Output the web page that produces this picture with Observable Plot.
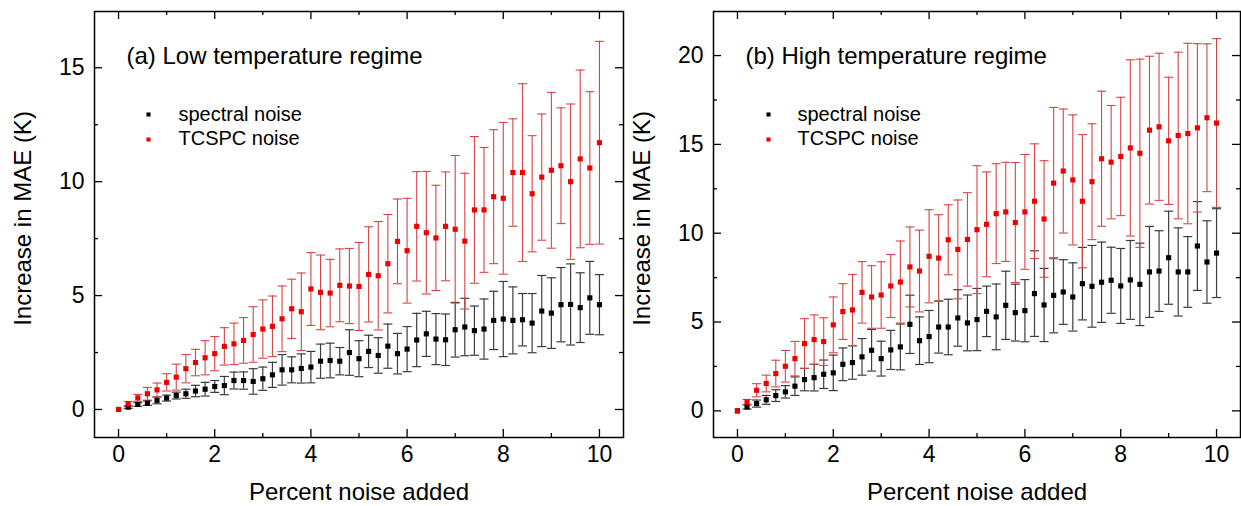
<!DOCTYPE html>
<html><head><meta charset="utf-8">
<script src="https://cdn.jsdelivr.net/npm/d3@7"></script>
<script src="https://cdn.jsdelivr.net/npm/@observablehq/plot@0.6"></script>
<style>
html,body{margin:0;padding:0;background:#fff;}
#wrap{display:flex;width:1241px;height:506px;overflow:hidden;}
#wrap svg{display:block;flex:none;}
</style></head><body><div id="wrap"></div>
<script>
// Percent noise added (x categories)
const noise = [0,0.2,0.4,0.6,0.8,1,1.2,1.4,1.6,1.8,2,2.2,2.4,2.6,2.8,3,3.2,3.4,3.6,3.8,4,4.2,4.4,4.6,4.8,5,5.2,5.4,5.6,5.8,6,6.2,6.4,6.6,6.8,7,7.2,7.4,7.6,7.8,8,8.2,8.4,8.6,8.8,9,9.2,9.4,9.6,9.8,10];

// (a) Low temperature regime
const lowSpectralMean = [0,0.1,0.22,0.28,0.4,0.5,0.61,0.69,0.81,0.89,1.01,1.05,1.27,1.27,1.23,1.35,1.52,1.74,1.74,1.8,1.86,2.12,2.15,2.12,2.5,2.23,2.55,2.37,2.78,2.45,2.65,3.05,3.32,3.09,3.06,3.5,3.62,3.46,3.53,3.91,3.97,3.91,3.94,3.79,4.32,4.23,4.6,4.61,4.47,4.9,4.6];
const lowSpectralErr = [0,0.05,0.08,0.1,0.15,0.13,0.15,0.2,0.25,0.3,0.26,0.4,0.37,0.38,0.56,0.51,0.55,0.67,0.57,0.64,0.69,0.75,0.76,0.6,1.0,0.79,0.71,0.78,0.97,0.89,0.99,1.17,0.99,1.12,1.13,1.2,1.26,1.08,1.32,1.28,1.65,1.47,1.15,1.3,1.56,1.55,1.63,1.78,1.53,1.6,1.32];
const lowTcspcMean = [0,0.25,0.51,0.69,0.86,1.19,1.42,1.79,2.06,2.27,2.45,2.77,2.88,3.03,3.29,3.53,3.65,3.98,4.42,4.29,5.29,5.14,5.11,5.45,5.42,5.40,5.93,5.87,6.40,7.38,6.97,8.04,7.76,7.53,8.04,7.91,7.39,8.76,8.76,9.34,9.27,10.4,10.4,9.47,10.2,10.5,10.7,10.0,11.0,10.6,11.71];
const lowTcspcErr = [0,0.1,0.15,0.28,0.3,0.38,0.57,0.62,0.58,0.75,0.75,0.82,0.91,1.0,1.22,1.28,1.33,1.44,1.3,1.7,1.6,1.64,1.48,1.6,1.65,1.93,2.09,2.38,2.16,1.86,2.3,2.4,2.69,2.31,2.39,3.24,2.98,3.22,2.74,2.94,3.33,2.36,3.9,2.55,2.77,3.42,2.54,3.41,3.9,3.35,4.45];

// (b) High temperature regime
const highSpectralMean = [0,0.22,0.41,0.62,0.86,1.07,1.39,1.76,1.87,2.06,2.14,2.62,2.72,3.04,3.41,2.94,3.43,3.6,4.87,3.95,4.18,4.72,4.72,5.23,4.95,5.14,5.6,5.29,5.94,5.53,5.64,6.6,5.96,6.5,6.69,6.41,7.16,7.01,7.24,7.35,7.03,7.37,7.12,7.82,7.87,8.62,7.82,7.82,9.28,8.38,8.88];
const highSpectralErr = [0,0.12,0.2,0.25,0.33,0.35,0.52,0.63,0.75,0.8,1.0,0.92,0.94,1.03,1.17,0.98,1.1,1.29,1.64,1.34,1.47,1.47,1.56,1.59,1.57,1.75,1.42,1.85,1.92,1.6,1.75,2.41,2.06,2.11,1.82,1.92,2.04,2.3,2.26,1.86,2.11,2.22,2.32,2.56,2.27,2.62,2.48,1.99,2.5,2.32,2.5];
const highTcspcMean = [0,0.5,1.16,1.54,2.1,2.51,2.94,3.79,4.01,3.9,4.84,5.59,5.68,6.67,6.41,6.52,7.03,7.25,8.1,7.87,8.7,8.6,9.63,9.09,9.65,10.2,10.5,11.1,11.2,10.6,11.2,11.8,10.8,12.82,13.5,13.0,11.8,12.9,14.19,14.0,14.32,14.8,14.5,15.8,15.99,15.2,15.5,15.61,15.93,16.5,16.2];
const highTcspcErr = [0,0.14,0.37,0.47,0.75,0.89,0.97,1.4,1.39,1.34,1.57,1.57,2.0,1.73,1.76,1.87,1.77,2.31,2.25,2.3,2.62,2.44,1.97,2.78,2.63,3.6,2.95,2.81,2.79,3.38,3.23,3.23,3.28,4.26,3.49,3.66,3.75,3.26,3.8,3.19,3.33,4.96,5.3,4.16,4.14,3.58,4.69,5.08,4.74,4.16,4.75];

// Tick values and labels
const xMajorTicks = [0,2,4,6,8,10];
const xMinorTicks = [1,3,5,7,9];
const lowYMajor = [0,5,10,15];
const lowYMinor = [2.5,7.5,12.5];
const highYMajor = [0,5,10,15,20];
const highYMinor = [2.5,7.5,12.5,17.5];
const seriesNames = ["spectral noise","TCSPC noise"];
const xLabel = "Percent noise added";
const yLabel = "Increase in MAE (K)";
const titles = ["(a) Low temperature regime","(b) High temperature regime"];

const FONT = "'Liberation Sans', Arial, Helvetica, sans-serif";
const H = 506, MT = 11, MB = 69;
const capSymbol = {draw(ctx){ ctx.moveTo(-4.5,0); ctx.lineTo(4.5,0); }};

function rows(mean, err){ return noise.map((x,i)=>({x, m: mean[i], e: err[i]})); }

function panel(o){
  const frameH = H - MT - MB;
  const frameW = o.width - o.marginLeft - o.marginRight;
  const S = rows(o.sMean, o.sErr), T = rows(o.tMean, o.tErr);
  const Sb = S.filter(d=>d.e>0), Tb = T.filter(d=>d.e>0);
  const sBar = "#3c3c3c", tBar = "#d54545";
  return Plot.plot({
    width: o.width, height: H, marginTop: MT, marginBottom: MB,
    marginLeft: o.marginLeft, marginRight: o.marginRight,
    x: {domain: [-0.5, 10.5]},
    y: {domain: o.yDomain},
    style: {fontFamily: FONT, background: "white", color: "black", overflow: "visible"},
    marks: [
      Plot.ruleX(Sb, {x: "x", y1: d=>d.m-d.e, y2: d=>d.m+d.e, stroke: sBar, strokeWidth: 1.2}),
      Plot.dot(Sb, {x: "x", y: d=>d.m+d.e, symbol: capSymbol, fill: "none", stroke: sBar, strokeWidth: 1.2}),
      Plot.dot(Sb, {x: "x", y: d=>d.m-d.e, symbol: capSymbol, fill: "none", stroke: sBar, strokeWidth: 1.2}),
      Plot.ruleX(Tb, {x: "x", y1: d=>d.m-d.e, y2: d=>d.m+d.e, stroke: tBar, strokeWidth: 1.1}),
      Plot.dot(Tb, {x: "x", y: d=>d.m+d.e, symbol: capSymbol, fill: "none", stroke: tBar, strokeWidth: 1.1}),
      Plot.dot(Tb, {x: "x", y: d=>d.m-d.e, symbol: capSymbol, fill: "none", stroke: tBar, strokeWidth: 1.1}),
      Plot.dot(S, {x: "x", y: "m", symbol: "square", r: 2.9, fill: "black", stroke: "none"}),
      Plot.dot(T, {x: "x", y: "m", symbol: "square", r: 2.9, fill: "#ee0000", stroke: "none"}),
      // inward ticks on all four sides
      Plot.tickX(xMajorTicks, {x: d=>d, insetTop: frameH-8, strokeWidth: 1.3}),
      Plot.tickX(xMajorTicks, {x: d=>d, insetBottom: frameH-8, strokeWidth: 1.3}),
      Plot.tickX(xMinorTicks, {x: d=>d, insetTop: frameH-4, strokeWidth: 1.3}),
      Plot.tickX(xMinorTicks, {x: d=>d, insetBottom: frameH-4, strokeWidth: 1.3}),
      Plot.tickY(o.yMajor, {y: d=>d, insetRight: frameW-8, strokeWidth: 1.3}),
      Plot.tickY(o.yMajor, {y: d=>d, insetLeft: frameW-8, strokeWidth: 1.3}),
      Plot.tickY(o.yMinor, {y: d=>d, insetRight: frameW-4, strokeWidth: 1.3}),
      Plot.tickY(o.yMinor, {y: d=>d, insetLeft: frameW-4, strokeWidth: 1.3}),
      Plot.axisX(xMajorTicks, {tickSize: 0, tickPadding: 8, fontSize: 23, label: null}),
      Plot.axisY(o.yMajor, {tickSize: 0, tickPadding: 10, fontSize: 23, label: null}),
      Plot.frame({stroke: "black", strokeWidth: 1.5}),
      Plot.text([xLabel], {frameAnchor: "bottom", dy: 62, lineAnchor: "bottom", textAnchor: "middle", fontSize: 24, fill: "black"}),
      Plot.text([yLabel], {frameAnchor: "left", dx: -71, dy: -6, rotate: -90, lineAnchor: "middle", textAnchor: "middle", fontSize: 24, fill: "black"}),
      Plot.text([o.title], {frameAnchor: "top-left", dx: 32, dy: 52, lineAnchor: "bottom", textAnchor: "start", fontSize: 24, fill: "black"}),
      Plot.dot([seriesNames[0]], {frameAnchor: "top-left", dx: o.legendDx, dy: 103, symbol: "square", r: 2.3, fill: "black", stroke: "none"}),
      Plot.dot([seriesNames[1]], {frameAnchor: "top-left", dx: o.legendDx, dy: 128, symbol: "square", r: 2.3, fill: "#ee0000", stroke: "none"}),
      Plot.text([seriesNames[0]], {frameAnchor: "top-left", dx: 84, dy: 109, lineAnchor: "bottom", textAnchor: "start", fontSize: 20, fill: "black"}),
      Plot.text([seriesNames[1]], {frameAnchor: "top-left", dx: 84, dy: 133, lineAnchor: "bottom", textAnchor: "start", fontSize: 20, fill: "black"})
    ]
  });
}

const wrap = document.getElementById("wrap");
wrap.append(panel({width: 630, marginLeft: 94, marginRight: 7, yDomain: [-1.23, 17.47],
  yMajor: lowYMajor, yMinor: lowYMinor, title: titles[0], legendDx: 54,
  sMean: lowSpectralMean, sErr: lowSpectralErr, tMean: lowTcspcMean, tErr: lowTcspcErr}));
wrap.append(panel({width: 611, marginLeft: 83, marginRight: 1, yDomain: [-1.5, 22.48],
  yMajor: highYMajor, yMinor: highYMinor, title: titles[1], legendDx: 55,
  sMean: highSpectralMean, sErr: highSpectralErr, tMean: highTcspcMean, tErr: highTcspcErr}));
</script></body></html>
